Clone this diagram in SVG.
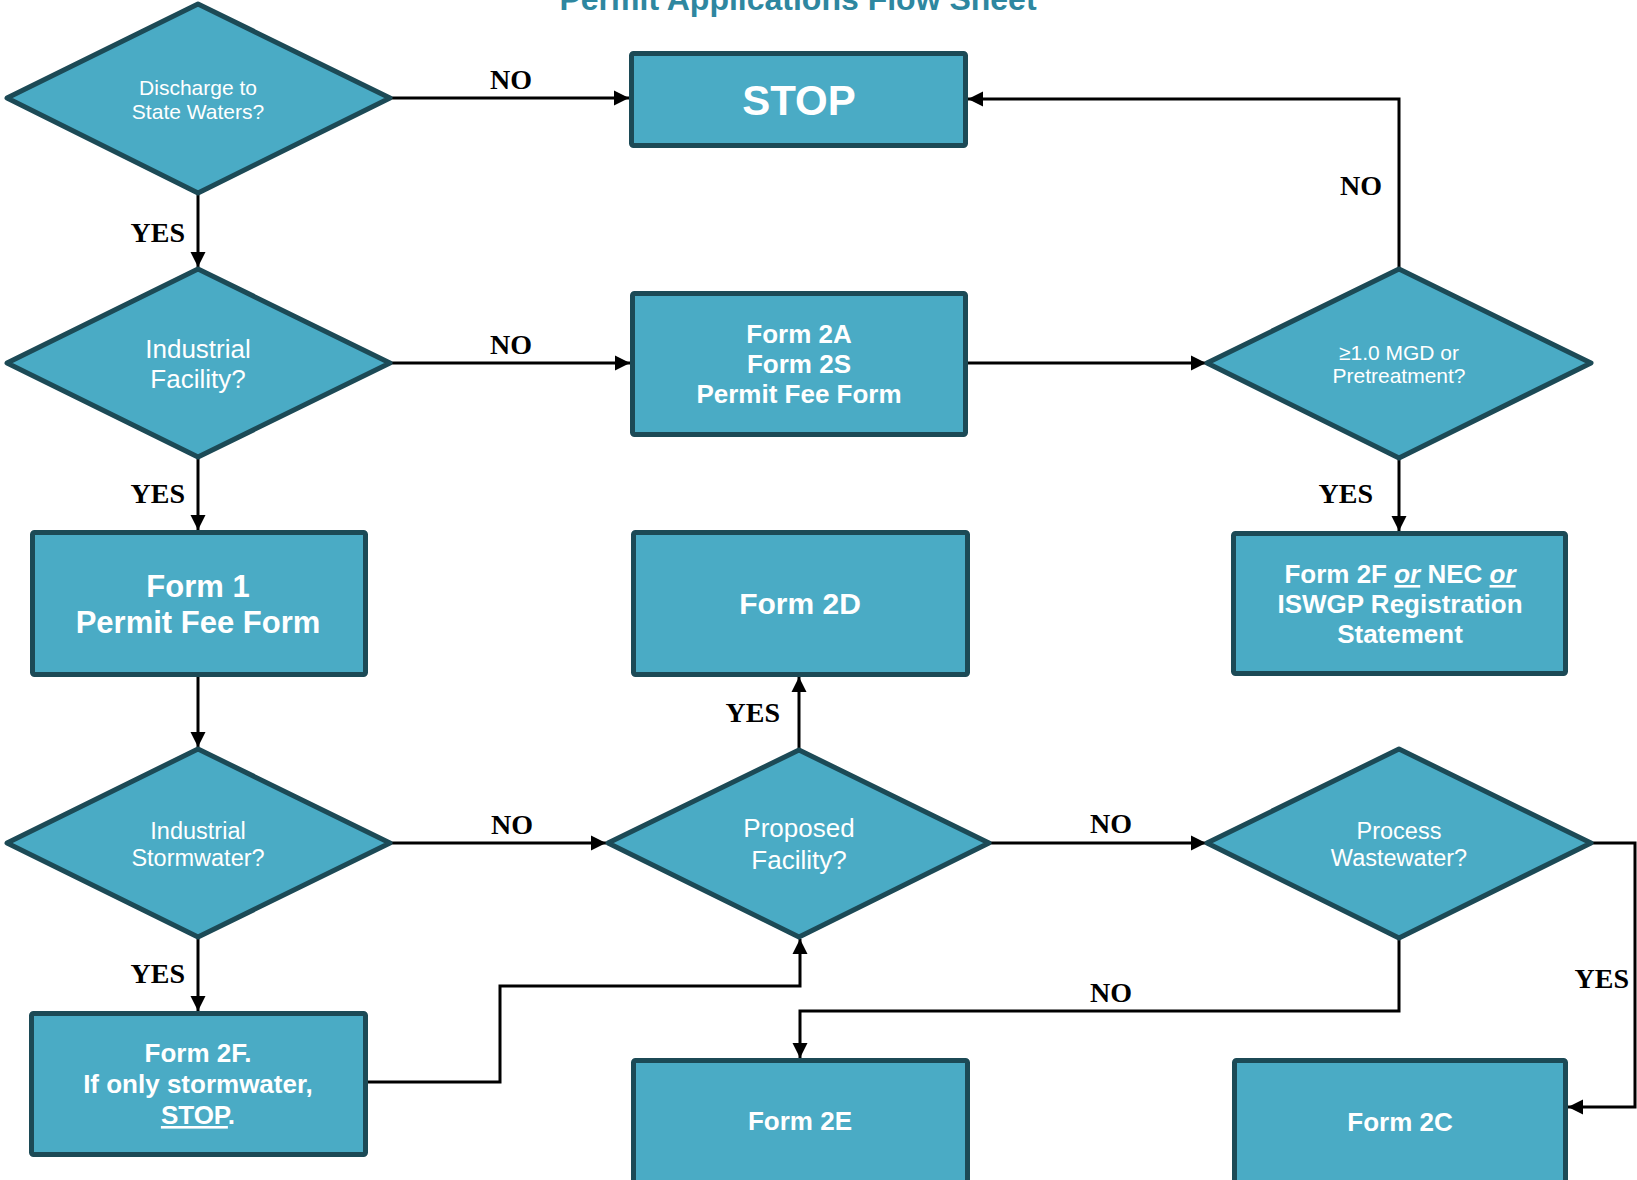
<svg xmlns="http://www.w3.org/2000/svg" width="1637" height="1180" viewBox="0 0 1637 1180">
<style>
.box{fill:#4aabc5;stroke:#1c4a56;stroke-width:5;}
.dia{fill:#4aabc5;stroke:#1c4a56;stroke-width:5;stroke-linejoin:round;}
.bt{font-family:"Liberation Sans",Arial,sans-serif;font-weight:bold;fill:#ffffff;text-anchor:middle;}
.dt{font-family:"Liberation Sans",Arial,sans-serif;fill:#ffffff;text-anchor:middle;}
.lbl{font-family:"Liberation Serif","Times New Roman",serif;font-weight:bold;font-size:28px;fill:#000;}
.con{fill:none;stroke:#000;stroke-width:3;}
.title{font-family:"Liberation Sans",Arial,sans-serif;font-weight:bold;font-size:32px;fill:#2e87a0;text-anchor:middle;}
</style>
<defs>
<marker id="arr" markerUnits="userSpaceOnUse" markerWidth="16" markerHeight="16" viewBox="0 0 16 16" refX="15" refY="8" orient="auto">
<path d="M0,0.5 L15,8 L0,15.5 Z" fill="#000"/>
</marker>
</defs>
<rect width="1637" height="1180" fill="#ffffff"/>
<text class="title" x="798" y="10">Permit Applications Flow Sheet</text>

<g id="connectors">
<path class="con" d="M390,98 H629" marker-end="url(#arr)"/>
<path class="con" d="M198,194 V267" marker-end="url(#arr)"/>
<path class="con" d="M390,363 H630" marker-end="url(#arr)"/>
<path class="con" d="M198,458 V530" marker-end="url(#arr)"/>
<path class="con" d="M968,363 H1206" marker-end="url(#arr)"/>
<path class="con" d="M1399,268 V99 H968" marker-end="url(#arr)"/>
<path class="con" d="M1399,459 V531" marker-end="url(#arr)"/>
<path class="con" d="M198,677 V747" marker-end="url(#arr)"/>
<path class="con" d="M390,843 H606" marker-end="url(#arr)"/>
<path class="con" d="M198,938 V1011" marker-end="url(#arr)"/>
<path class="con" d="M368,1082 H500 V986 H800 V939" marker-end="url(#arr)"/>
<path class="con" d="M799,749 V677" marker-end="url(#arr)"/>
<path class="con" d="M990,843 H1206" marker-end="url(#arr)"/>
<path class="con" d="M1399,938 V1011 H800 V1058" marker-end="url(#arr)"/>
<path class="con" d="M1591,843 H1635 V1107 H1568" marker-end="url(#arr)"/>
<text class="lbl" x="511" y="89" text-anchor="middle">NO</text>
<text class="lbl" x="185" y="242" text-anchor="end">YES</text>
<text class="lbl" x="511" y="354" text-anchor="middle">NO</text>
<text class="lbl" x="185" y="503" text-anchor="end">YES</text>
<text class="lbl" x="1361" y="195" text-anchor="middle">NO</text>
<text class="lbl" x="1373" y="503" text-anchor="end">YES</text>
<text class="lbl" x="512" y="834" text-anchor="middle">NO</text>
<text class="lbl" x="185" y="983" text-anchor="end">YES</text>
<text class="lbl" x="780" y="722" text-anchor="end">YES</text>
<text class="lbl" x="1111" y="833" text-anchor="middle">NO</text>
<text class="lbl" x="1111" y="1002" text-anchor="middle">NO</text>
<text class="lbl" x="1629" y="988" text-anchor="end">YES</text>
</g>

<g id="discharge">
<polygon class="dia" points="198,4 390,98 198,193 7,98"/>
<text class="dt" font-size="21" x="198" y="95">Discharge to</text>
<text class="dt" font-size="21" x="198" y="119">State Waters?</text>
</g>

<g id="stop">
<rect class="box" x="631.5" y="53.5" width="334" height="92" rx="2"/>
<text class="bt" font-size="42" x="799" y="115">STOP</text>
</g>

<g id="industrial-facility">
<polygon class="dia" points="198,269 390,363 198,457 7,363"/>
<text class="dt" font-size="26" x="198" y="358">Industrial</text>
<text class="dt" font-size="26" x="198" y="388">Facility?</text>
</g>

<g id="form2a">
<rect class="box" x="632.5" y="293.5" width="333" height="141" rx="2"/>
<text class="bt" font-size="26" x="799" y="343">Form 2A</text>
<text class="bt" font-size="26" x="799" y="373">Form 2S</text>
<text class="bt" font-size="26" x="799" y="403">Permit Fee Form</text>
</g>

<g id="mgd">
<polygon class="dia" points="1399,269 1591,363 1399,458 1207,363"/>
<text class="dt" font-size="21" x="1399" y="360">≥1.0 MGD or</text>
<text class="dt" font-size="21" x="1399" y="383">Pretreatment?</text>
</g>

<g id="form1">
<rect class="box" x="32.5" y="532.5" width="333" height="142" rx="2"/>
<text class="bt" font-size="31" x="198" y="597">Form 1</text>
<text class="bt" font-size="31" x="198" y="633">Permit Fee Form</text>
</g>

<g id="form2d">
<rect class="box" x="633.5" y="532.5" width="334" height="142" rx="2"/>
<text class="bt" font-size="30" x="800" y="614">Form 2D</text>
</g>

<g id="form2f-nec">
<rect class="box" x="1233.5" y="533.5" width="332" height="140" rx="2"/>
<text class="bt" font-size="26" x="1400" y="583">Form 2F <tspan font-style="italic" text-decoration="underline">or</tspan> NEC <tspan font-style="italic" text-decoration="underline">or</tspan></text>
<text class="bt" font-size="26" x="1400" y="613">ISWGP Registration</text>
<text class="bt" font-size="26" x="1400" y="643">Statement</text>
</g>

<g id="industrial-stormwater">
<polygon class="dia" points="198,749 390,843 198,937 7,843"/>
<text class="dt" font-size="23.5" x="198" y="839">Industrial</text>
<text class="dt" font-size="23.5" x="198" y="866">Stormwater?</text>
</g>

<g id="proposed">
<polygon class="dia" points="799,750 989,843 799,937 608,843"/>
<text class="dt" font-size="26" x="799" y="837">Proposed</text>
<text class="dt" font-size="26" x="799" y="869">Facility?</text>
</g>

<g id="process">
<polygon class="dia" points="1399,749 1591,843 1399,938 1207,843"/>
<text class="dt" font-size="23.5" x="1399" y="839">Process</text>
<text class="dt" font-size="23.5" x="1399" y="866">Wastewater?</text>
</g>

<g id="form2f">
<rect class="box" x="31.5" y="1013.5" width="334" height="141" rx="2"/>
<text class="bt" font-size="26" x="198" y="1062">Form 2F.</text>
<text class="bt" font-size="26" x="198" y="1093">If only stormwater,</text>
<text class="bt" font-size="26" x="198" y="1124"><tspan text-decoration="underline">STOP</tspan>.</text>
</g>

<g id="form2e">
<rect class="box" x="633.5" y="1060.5" width="334" height="130" rx="2"/>
<text class="bt" font-size="26" x="800" y="1130">Form 2E</text>
</g>

<g id="form2c">
<rect class="box" x="1234.5" y="1060.5" width="331" height="130" rx="2"/>
<text class="bt" font-size="26" x="1400" y="1131">Form 2C</text>
</g>
</svg>
